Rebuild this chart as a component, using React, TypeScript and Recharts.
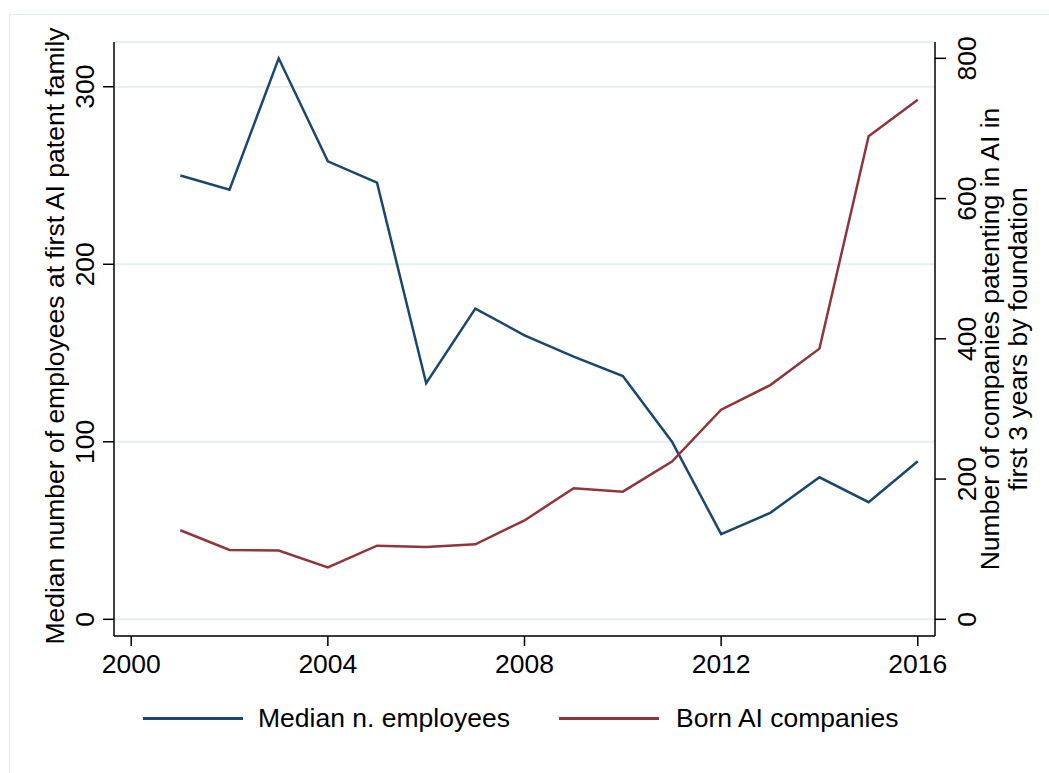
import React from "react";
import {
  LineChart,
  Line,
  XAxis,
  YAxis,
  CartesianGrid,
} from "recharts";

// years of foundation / first AI patent
const years = [
  2001, 2002, 2003, 2004, 2005, 2006, 2007, 2008,
  2009, 2010, 2011, 2012, 2013, 2014, 2015, 2016,
];

// left axis: median number of employees
const medianEmployees = [
  250, 242, 316, 258, 246, 133, 175, 160,
  148, 137, 100, 48, 60, 80, 66, 89,
];

// right axis: born AI companies
const bornAI = [
  127, 99, 98, 74, 105, 103, 107, 141,
  187, 182, 225, 299, 334, 386, 689, 741,
];

const xTicks = [2000, 2004, 2008, 2012, 2016];
const leftTicks = [0, 100, 200, 300];
const rightTicks = [0, 200, 400, 600, 800];

const seriesNames = ["Median n. employees", "Born AI companies"];

const FONT = '"Liberation Sans", Arial, sans-serif';
const FS = 26.5;
const BLUE = "#1a476f";
const RED = "#90353b";

const data = years.map((y, i) => ({
  year: y,
  employees: medianEmployees[i],
  born: bornAI[i],
}));

function LeftTick(props: any) {
  const { x, y, payload } = props;
  return (
    <text
      x={x}
      y={y}
      transform={`rotate(-90, ${x}, ${y})`}
      textAnchor="middle"
      fontSize={FS}
      fontFamily={FONT}
      fill="#000"
    >
      {payload.value}
    </text>
  );
}

function RightTick(props: any) {
  const { x, y, payload } = props;
  const bx = x + 19;
  return (
    <text
      x={bx}
      y={y}
      transform={`rotate(-90, ${bx}, ${y})`}
      textAnchor="middle"
      fontSize={FS}
      fontFamily={FONT}
      fill="#000"
    >
      {payload.value}
    </text>
  );
}

function leftLabel(props: any) {
  const vb = props.viewBox;
  const x = vb.x + 63.5;
  const y = vb.y + vb.height / 2 - 3;
  return (
    <text
      x={x}
      y={y}
      transform={`rotate(-90, ${x}, ${y})`}
      textAnchor="middle"
      fontSize={FS}
      fontFamily={FONT}
      fill="#000"
    >
      Median number of employees at first AI patent family
    </text>
  );
}

function rightLabel(props: any) {
  const vb = props.viewBox;
  const cy = vb.y + vb.height / 2;
  const x1 = vb.x + 64;
  const x2 = vb.x + 92;
  return (
    <g>
      <text
        x={x1}
        y={cy}
        transform={`rotate(-90, ${x1}, ${cy})`}
        textAnchor="middle"
        fontSize={FS}
        fontFamily={FONT}
        fill="#000"
      >
        Number of companies patenting in AI in
      </text>
      <text
        x={x2}
        y={cy}
        transform={`rotate(-90, ${x2}, ${cy})`}
        textAnchor="middle"
        fontSize={FS}
        fontFamily={FONT}
        fill="#000"
      >
        first 3 years by foundation
      </text>
    </g>
  );
}

export default function App() {
  return (
    <div
      style={{
        position: "absolute",
        left: 0,
        top: 0,
        width: 1049,
        height: 773,
        overflow: "hidden",
        background: "#fff",
        fontFamily: FONT,
      }}
    >
      <div
        style={{
          position: "absolute",
          left: 9,
          top: 14,
          width: 1100,
          height: 800,
          border: "1px solid #e3ecef",
        }}
      />

      <div style={{ position: "absolute", left: 0, top: 0 }}>
        <LineChart
          width={1049}
          height={773}
          data={data}
          margin={{ top: 42, right: 0, bottom: 0, left: 0 }}
        >
          <CartesianGrid
            yAxisId="left"
            vertical={false}
            stroke="#e6eef1"
            strokeWidth={2}
          />

          <XAxis
            dataKey="year"
            type="number"
            domain={[1999.65, 2016.35]}
            ticks={xTicks}
            allowDataOverflow
            height={137}
            tickSize={10}
            tickMargin={8}
            stroke="#000"
            strokeWidth={1.5}
            tick={{ fontSize: FS, fontFamily: FONT, fill: "#000" }}
          />

          <YAxis
            yAxisId="left"
            orientation="left"
            width={114}
            domain={[-9.4, 325.2]}
            ticks={leftTicks}
            allowDataOverflow
            tickSize={11}
            tickMargin={9}
            stroke="#000"
            strokeWidth={1.5}
            tick={<LeftTick />}
            label={leftLabel}
          />

          <YAxis
            yAxisId="right"
            orientation="right"
            width={114}
            domain={[-23.8, 823.3]}
            ticks={rightTicks}
            allowDataOverflow
            tickSize={11}
            tickMargin={11}
            stroke="#000"
            strokeWidth={1.5}
            tick={<RightTick />}
            label={rightLabel}
          />

          <Line
            yAxisId="left"
            type="linear"
            dataKey="employees"
            name={seriesNames[0]}
            stroke={BLUE}
            strokeWidth={2.5}
            dot={false}
            isAnimationActive={false}
          />

          <Line
            yAxisId="right"
            type="linear"
            dataKey="born"
            name={seriesNames[1]}
            stroke={RED}
            strokeWidth={2.5}
            dot={false}
            isAnimationActive={false}
          />
        </LineChart>
      </div>

      {/* legend */}
      <div style={{ position: "absolute", left: 143, top: 717, width: 100, height: 3, background: BLUE }} />
      <div
        style={{
          position: "absolute",
          left: 258,
          top: 703,
          fontSize: FS,
          lineHeight: "30px",
          whiteSpace: "nowrap",
        }}
      >
        {seriesNames[0]}
      </div>
      <div style={{ position: "absolute", left: 559, top: 717, width: 100, height: 3, background: RED }} />
      <div
        style={{
          position: "absolute",
          left: 676,
          top: 703,
          fontSize: FS,
          lineHeight: "30px",
          whiteSpace: "nowrap",
        }}
      >
        {seriesNames[1]}
      </div>
    </div>
  );
}
